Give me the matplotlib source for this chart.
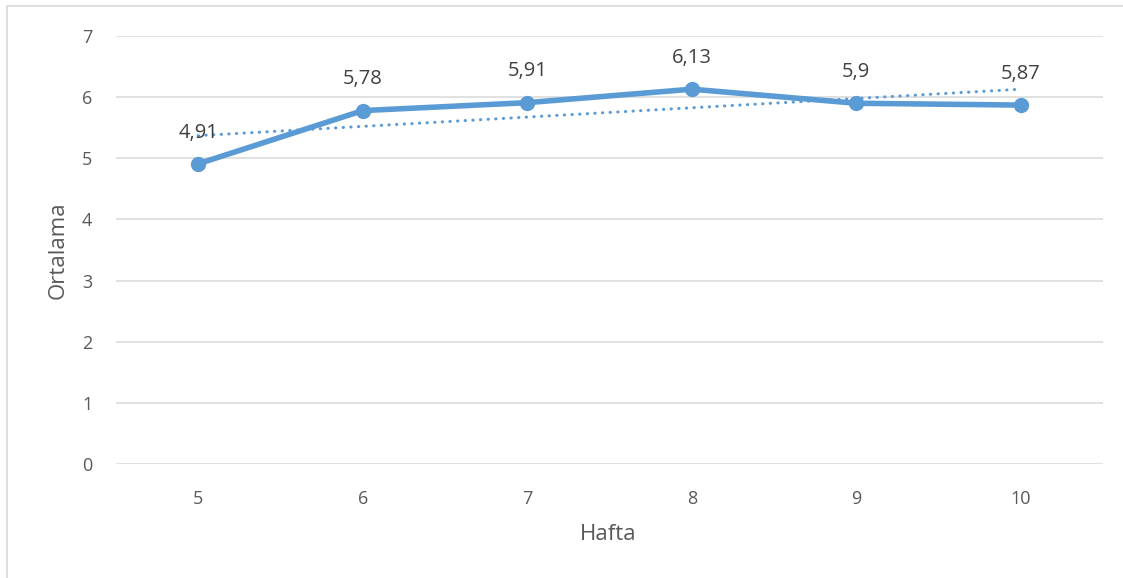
import matplotlib.pyplot as plt
from matplotlib.patches import Rectangle

# weekly averages
weeks = ["5", "6", "7", "8", "9", "10"]
means = [4.91, 5.78, 5.91, 6.13, 5.9, 5.87]
mean_labels = ["4,91", "5,78", "5,91", "6,13", "5,9", "5,87"]
# linear trendline end values
trend_ends = [5.37, 6.13]

BLUE = "#5B9BD5"
GRID = "#D9D9D9"
TEXT = "#595959"

plt.rcParams["font.family"] = ["Open Sans", "DejaVu Sans"]

fig = plt.figure(figsize=(11.23, 5.78), dpi=100)
ax = fig.add_axes([116 / 1123, 1 - 464 / 578, 987 / 1123, 428 / 578])

x = list(range(len(weeks)))
ax.plot([x[0], x[-1]], trend_ends, color=BLUE, lw=2.2,
        linestyle=(0, (0.1, 2.4)), dash_capstyle="round", zorder=2)
ax.plot(x, means, color=BLUE, lw=4, marker="o", markersize=10,
        solid_capstyle="round", zorder=3)

for xi, v, lab in zip(x, means, mean_labels):
    ax.annotate(lab, (xi, v), xytext=(0, 22.5), textcoords="offset points",
                ha="center", va="center", fontsize=14.5, color="#404040")

ax.set_xlim(-0.5, len(weeks) - 0.5)
ax.set_ylim(0, 7)
ax.set_yticks(range(8))
ax.set_xticks(x)
ax.set_xticklabels(weeks)
ax.grid(axis="y", color=GRID, lw=1.1)
ax.set_axisbelow(True)
for s in ax.spines.values():
    s.set_visible(False)
ax.tick_params(length=0, labelsize=13, labelcolor=TEXT)
ax.tick_params(axis="y", pad=17)
ax.tick_params(axis="x", pad=19)

fig.text(608 / 1123, 1 - 535 / 578, "Hafta", ha="center", va="center",
         fontsize=16, color=TEXT)
fig.text(58 / 1123, 1 - 250 / 578, "Ortalama", ha="center", va="center",
         rotation=90, fontsize=16, color=TEXT)

# chart area border
fig.patches.append(Rectangle((7 / 1123, -0.1), 1.2, 1 - 6 / 578 + 0.1,
                             transform=fig.transFigure, fill=False,
                             edgecolor=GRID, lw=1.2))

fig.savefig("out.png", dpi=100)
